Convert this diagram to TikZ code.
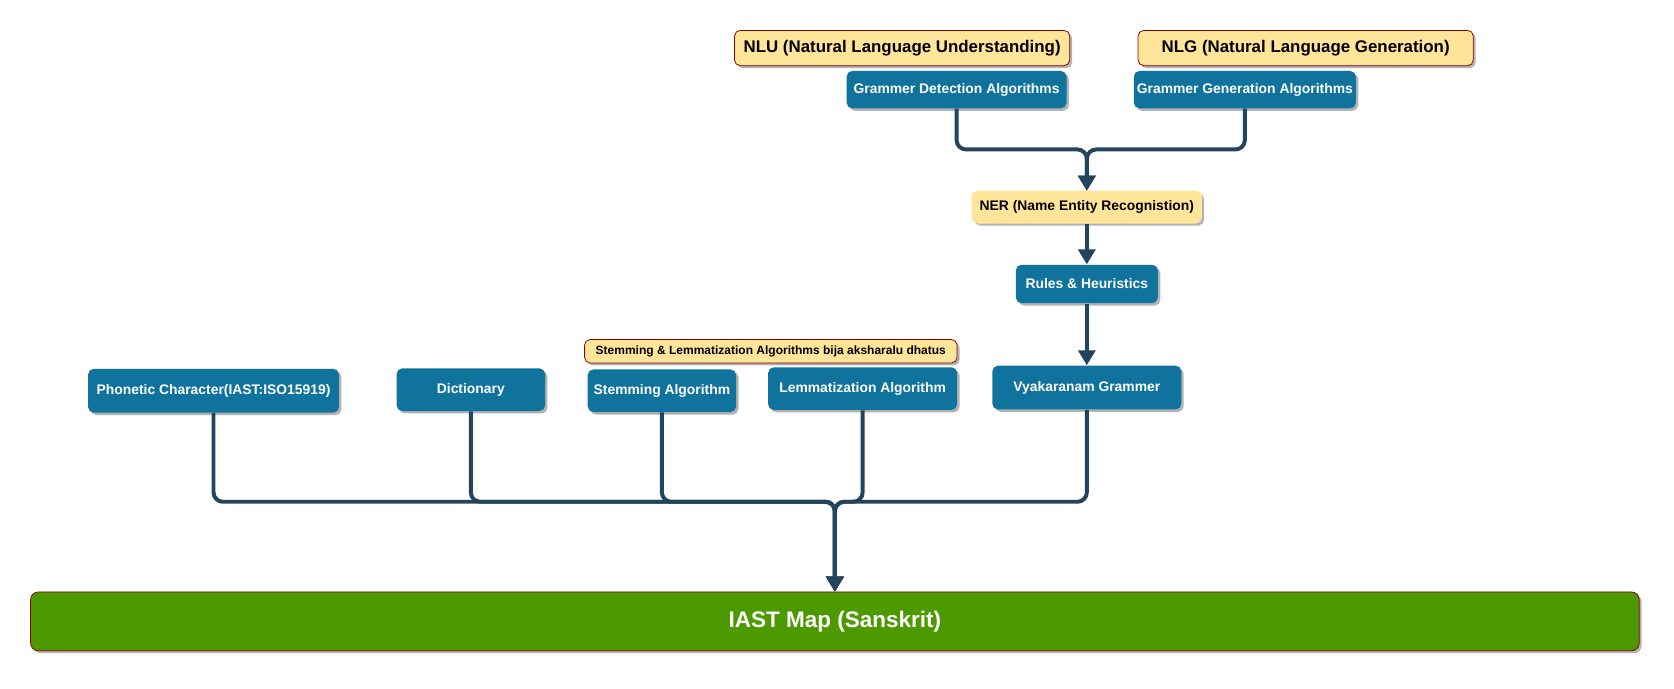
\documentclass[tikz,border=0pt]{standalone}
\usepackage{fontspec}
\setmainfont{Liberation Sans}
\usetikzlibrary{arrows.meta,shadows}

\definecolor{boxblue}{HTML}{10739E}
\definecolor{noteyellow}{HTML}{FFE599}
\definecolor{darkred}{HTML}{8B0000}
\definecolor{mapgreen}{HTML}{4D9900}
\definecolor{linkblue}{HTML}{23445D}

\begin{document}
\begin{tikzpicture}[x=0.02cm,y=-0.02cm,font=\bfseries]
        \tikzstyle{shade}=[drop shadow={shadow xshift=1.3pt,shadow yshift=-1.3pt,fill=black!30,opacity=1}]
        \tikzstyle{algo}=[rectangle,rounded corners=3pt,fill=boxblue,text=white,shade,inner sep=0pt,font=\bfseries\fontsize{7.4}{9}\selectfont]
        \tikzstyle{note}=[rectangle,rounded corners=3pt,fill=noteyellow,draw=darkred,text=black,shade,inner sep=0pt]
        \tikzstyle{link}=[draw=linkblue,line width=2.1pt,rounded corners=5pt,-{Triangle[width=9pt,length=8pt]}]

        \useasboundingbox (0,0) rectangle (1568,645);

        % Draw the top notes and algorithms
        \node[note,minimum width=6.28cm,minimum height=0.66cm,font=\bfseries\fontsize{9}{11}\selectfont] (nlu) at (845,45) {NLU (Natural Language Understanding)};
        \node[note,minimum width=6.28cm,minimum height=0.66cm,font=\bfseries\fontsize{9}{11}\selectfont] (nlg) at (1223,45) {NLG (Natural Language Generation)};
        \node[algo,minimum width=4.12cm,minimum height=0.7cm] (gdet) at (896,84) {Grammer Detection Algorithms};
        \node[algo,minimum width=4.16cm,minimum height=0.7cm] (ggen) at (1166,84) {Grammer Generation Algorithms};

        % Draw the middle column
        \node[note,draw=noteyellow,minimum width=4.3cm,minimum height=0.6cm,font=\bfseries\fontsize{7.4}{9}\selectfont] (ner) at (1018,194) {NER (Name Entity Recognistion)};
        \node[algo,minimum width=2.66cm,minimum height=0.72cm] (rules) at (1018,266) {Rules \& Heuristics};

        % Draw the row of sources
        \node[note,minimum width=6.98cm,minimum height=0.44cm,font=\bfseries\fontsize{6.4}{8}\selectfont] (stemnote) at (722,329) {Stemming \& Lemmatization Algorithms bija aksharalu dhatus};
        \node[algo,minimum width=4.7cm,minimum height=0.82cm] (phon) at (200,366) {Phonetic Character(IAST:ISO15919)};
        \node[algo,minimum width=2.78cm,minimum height=0.8cm] (dict) at (441,365) {Dictionary};
        \node[algo,minimum width=2.78cm,minimum height=0.8cm] (stem) at (620,366) {Stemming Algorithm};
        \node[algo,minimum width=3.54cm,minimum height=0.8cm] (lemma) at (808,364) {Lemmatization Algorithm};
        \node[algo,minimum width=3.54cm,minimum height=0.82cm] (vyak) at (1018,363) {Vyakaranam Grammer};

        % Draw the map
        \node[rectangle,rounded corners=4pt,fill=mapgreen,draw=darkred,shade,minimum width=30.14cm,minimum height=1.1cm,text=white,font=\bfseries\fontsize{12}{14}\selectfont] (iast) at (782,582) {IAST Map (Sanskrit)};

        % Junctions
        \coordinate (j1) at (1018,140);
        \coordinate (j2) at (782,470);

        % Connect the algorithms with NER
        \foreach \source in {gdet,ggen}
            \path[link] (\source.south) |- (j1) -- (ner.north);
        \path[link] (ner) -- (rules);
        \path[link] (rules) -- (vyak);

        % Connect every source with the map
        \foreach \source in {phon,dict,stem,lemma,vyak}
            \path[link] (\source.south) |- (j2) -- (iast.north);
\end{tikzpicture}
\end{document}
